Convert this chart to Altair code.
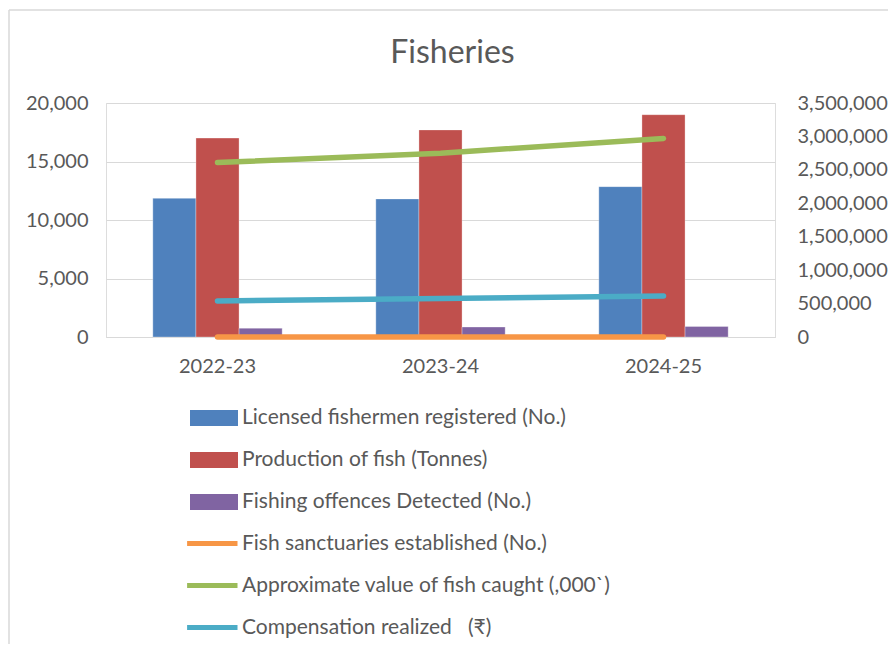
import altair as alt
import pandas as pd

years = ["2022-23", "2023-24", "2024-25"]

bar_series = [
    "Licensed fishermen registered (No.)",
    "Production of fish (Tonnes)",
    "Fishing offences Detected (No.)",
]
licensed = [11850, 11800, 12850]
production = [17000, 17700, 19000]
offences = [750, 850, 900]

line_series = [
    "Fish sanctuaries established (No.)",
    "Approximate value of fish caught (,000`)",
    "Compensation realized \u00a0\u00a0(\u20b9)",
]
sanctuaries = [3, 2, 4]
fish_value = [2610000, 2750000, 2970000]
compensation = [540000, 575000, 615000]

left_ticks = [0, 5000, 10000, 15000, 20000]
right_ticks = [0, 500000, 1000000, 1500000, 2000000, 2500000, 3000000, 3500000]

bar_colors = ["#4F81BD", "#C0504D", "#8064A2"]
line_colors = ["#F79646", "#9BBB59", "#4BACC6"]

FONT = "Lato"
TXT = "#595959"
GRID = "#d9d9d9"

bar_rows = []
for s, vals in zip(bar_series, [licensed, production, offences]):
    for y, v in zip(years, vals):
        bar_rows.append({"year": y, "series": s, "value": v})
bar_df = pd.DataFrame(bar_rows)

line_rows = []
for s, vals in zip(line_series, [sanctuaries, fish_value, compensation]):
    for y, v in zip(years, vals):
        line_rows.append({"year": y, "series2": s, "value2": v})
line_df = pd.DataFrame(line_rows)

x_enc = alt.X(
    "year:N",
    sort=years,
    scale=alt.Scale(paddingInner=0.42, paddingOuter=0.21),
    axis=alt.Axis(
        title=None,
        labelAngle=0,
        ticks=False,
        domain=True,
        domainColor=GRID,
        domainWidth=1,
        labelFont=FONT,
        labelFontSize=20,
        labelColor=TXT,
        labelPadding=19,
    ),
)

bars = alt.Chart(bar_df).mark_bar(stroke="white", strokeWidth=0.5, strokeOpacity=0.6).encode(
    x=x_enc,
    xOffset=alt.XOffset("series:N", sort=bar_series, scale=alt.Scale(paddingInner=0, paddingOuter=0)),
    y=alt.Y(
        "value:Q",
        scale=alt.Scale(domain=[0, 20000], nice=False),
        axis=alt.Axis(
            title=None,
            orient="left",
            values=left_ticks,
            format=",.0f",
            grid=True,
            gridColor=GRID,
            gridWidth=1,
            domain=False,
            ticks=False,
            labelFont=FONT,
            labelFontSize=20,
            labelColor=TXT,
            labelPadding=18,
        ),
    ),
    color=alt.Color(
        "series:N",
        sort=bar_series,
        scale=alt.Scale(domain=bar_series, range=bar_colors),
        legend=alt.Legend(
            orient="none",
            legendX=108,
            legendY=303,
            direction="vertical",
            title=None,
            symbolType="M-3,-0.667L1,-0.667L1,0.667L-3,0.667Z",
            symbolSize=576,
            symbolStrokeWidth=0,
            labelFont=FONT,
            labelFontSize=21,
            labelColor=TXT,
            labelOffset=4,
            labelLimit=0,
            rowPadding=20,
            padding=0,
        ),
    ),
)

lines = alt.Chart(line_df).mark_line(strokeWidth=5.5, strokeCap="round").encode(
    x=x_enc,
    y=alt.Y(
        "value2:Q",
        scale=alt.Scale(domain=[0, 3500000], nice=False),
        axis=alt.Axis(
            title=None,
            orient="right",
            values=right_ticks,
            format=",.0f",
            grid=False,
            domain=False,
            ticks=False,
            labelFont=FONT,
            labelFontSize=20,
            labelColor=TXT,
            labelPadding=22,
        ),
    ),
    stroke=alt.Stroke(
        "series2:N",
        sort=line_series,
        scale=alt.Scale(domain=line_series, range=line_colors),
        legend=alt.Legend(
            orient="none",
            legendX=105,
            legendY=426,
            direction="vertical",
            title=None,
            symbolType="M-3.2,0L1,0",
            symbolSize=576,
            symbolStrokeWidth=5,
            labelFont=FONT,
            labelFontSize=21,
            labelColor=TXT,
            labelOffset=2,
            labelLimit=0,
            rowPadding=17,
            padding=0,
        ),
    ),
    order=alt.Order("series2:N", sort="ascending"),
)

frame_df = pd.DataFrame({"a": [0]})
frame_top = alt.Chart(frame_df).mark_rule(color=GRID, strokeWidth=1.5).encode(
    x=alt.value(-97),
    x2=alt.value(900),
    y=alt.value(-93),
)
frame_left = alt.Chart(frame_df).mark_rule(color=GRID, strokeWidth=1.5).encode(
    x=alt.value(-97),
    y=alt.value(-93),
    y2=alt.value(700),
)

chart = (
    alt.layer(frame_top, frame_left, bars, lines)
    .resolve_scale(y="independent")
    .properties(
        width=669,
        height=234,
        title=alt.TitleParams(
            "Fisheries",
            font=FONT,
            fontSize=32,
            fontWeight="normal",
            color=TXT,
            anchor="middle",
            dx=12,
            dy=61,
            offset=0,
        ),
        autosize=alt.AutoSizeParams(type="none"),
        padding={"left": 98, "top": 95, "right": 113, "bottom": 307},
    )
    .configure_view(strokeWidth=0)
    .configure(background="white")
)

chart.save("out.html", embed_options={"renderer": "svg", "actions": False})
